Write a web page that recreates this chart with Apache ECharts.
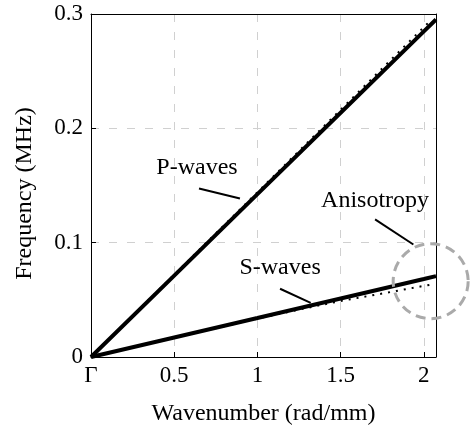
<!DOCTYPE html>
<html>
<head>
<meta charset="utf-8">
<script src="https://cdn.jsdelivr.net/npm/echarts@6/dist/echarts.min.js"></script>
<style>html,body{margin:0;padding:0;background:#fff;}#c{width:471px;height:432px;}</style>
</head>
<body>
<div id="c"></div>
<script>
// Wavenumber samples (rad/mm)
const kSolid = [0, 0.5, 1, 1.5, 2, 2.073];
const pSolid = [0, 0.0712, 0.1424, 0.2136, 0.2848, 0.2952];
const sSolid = [0, 0.0171, 0.0341, 0.0512, 0.0682, 0.0707];
const kDotted = [0, 0.5, 1, 1.25, 1.5, 1.75, 2, 2.04];
const pDotted = [0, 0.0720, 0.1441, 0.1802, 0.2163, 0.2524, 0.2885, 0.2942];
const sDotted = [0, 0.0170, 0.0335, 0.0415, 0.0490, 0.0555, 0.0622, 0.0632];
const xTicks = [0, 0.5, 1, 1.5, 2];
const xTickLabels = ['Γ', '0.5', '1', '1.5', '2'];
const yTicks = [0, 0.1, 0.2, 0.3];
const yTickLabels = ['0', '0.1', '0.2', '0.3'];
// annotation anchors in data coordinates
const labels = [
  {text: 'P-waves', at: [0.637, 0.1660], from: [0.649, 0.1474], to: [0.895, 0.1387]},
  {text: 'S-waves', at: [1.136, 0.0779], from: [1.136, 0.0597], to: [1.320, 0.0474]},
  {text: 'Anisotropy', at: [1.707, 0.1369], from: [1.707, 0.1203], to: [1.937, 0.0984]}
];
const circleCenter = [2.041, 0.0663];

const pairs = (xs, ys) => xs.map((x, i) => [x, ys[i]]);
const font = 'Liberation Serif';
const chart = echarts.init(document.getElementById('c'), null, {renderer: 'canvas'});
const dotted = {type: 'line', symbol: 'none', silent: true, clip: true,
  lineStyle: {color: '#000', width: 2, type: [2, 6]}, z: 2};
const solid = {type: 'line', symbol: 'none', silent: true, clip: true,
  lineStyle: {color: '#000', width: 4}, z: 3};
const fmt = (ticks, texts) => v => { const i = ticks.indexOf(Math.round(v * 10) / 10); return (i >= 0 && Math.abs(v - ticks[i]) < 1e-6) ? texts[i] : ''; };
const grid = {color: '#d0d0d0', width: 1, type: [8, 10]};
const frame = {show: true, onZero: false, lineStyle: {color: '#000', width: 1}};
chart.setOption({
  animation: false,
  grid: {left: 91, right: 35, top: 14, bottom: 75},
  xAxis: [{
    type: 'value', min: 0, max: 2.073, interval: 0.5,
    name: 'Wavenumber (rad/mm)', nameLocation: 'middle', nameGap: 45,
    nameTextStyle: {fontFamily: font, fontSize: 24, color: '#000'},
    axisLine: frame,
    axisTick: {show: true, inside: true, length: 5, lineStyle: {color: '#000'}},
    axisLabel: {fontFamily: font, fontSize: 23, color: '#000', margin: 7, formatter: fmt(xTicks, xTickLabels)},
    splitLine: {show: true, lineStyle: grid}
  }, {
    type: 'value', position: 'top', min: 0, max: 2.073, interval: 0.5,
    axisLine: frame, axisTick: {show: false}, axisLabel: {show: false}, splitLine: {show: false}
  }],
  yAxis: [{
    type: 'value', min: 0, max: 0.3, interval: 0.1,
    name: 'Frequency (MHz)', nameLocation: 'middle', nameGap: 54,
    nameTextStyle: {fontFamily: font, fontSize: 24, color: '#000', padding: [0, 16, 0, 0]},
    axisLine: frame,
    axisTick: {show: true, inside: true, length: 5, lineStyle: {color: '#000'}},
    axisLabel: {fontFamily: font, fontSize: 23, color: '#000', margin: 8, formatter: fmt(yTicks, yTickLabels)},
    splitLine: {show: true, lineStyle: grid}
  }, {
    type: 'value', position: 'right', min: 0, max: 0.3, interval: 0.1,
    axisLine: frame, axisTick: {show: false}, axisLabel: {show: false}, splitLine: {show: false}
  }],
  series: [
    Object.assign({name: 'P dotted', data: pairs(kDotted, pDotted)}, dotted),
    Object.assign({name: 'S dotted', data: pairs(kDotted, sDotted)}, dotted),
    Object.assign({name: 'P', data: pairs(kSolid, pSolid)}, solid),
    Object.assign({name: 'S', data: pairs(kSolid, sSolid)}, solid)
  ]
});
const px = p => chart.convertToPixel({xAxisIndex: 0, yAxisIndex: 0}, p);
const graphics = [];
labels.forEach(l => {
  const a = px(l.at), f = px(l.from), t = px(l.to);
  graphics.push({type: 'text', x: a[0], y: a[1], z: 10,
    style: {text: l.text, font: '24px "' + font + '"', fill: '#000', textAlign: 'center', textVerticalAlign: 'middle'}});
  graphics.push({type: 'line', z: 10, shape: {x1: f[0], y1: f[1], x2: t[0], y2: t[1]},
    style: {stroke: '#000', lineWidth: 2}});
});
const c = px(circleCenter);
graphics.push({type: 'circle', z: 11, shape: {cx: c[0], cy: c[1], r: 37.5},
  style: {fill: 'none', stroke: '#aaaaaa', lineWidth: 3, lineDash: [10, 6]}});
chart.setOption({graphic: graphics});
</script>
</body>
</html>
